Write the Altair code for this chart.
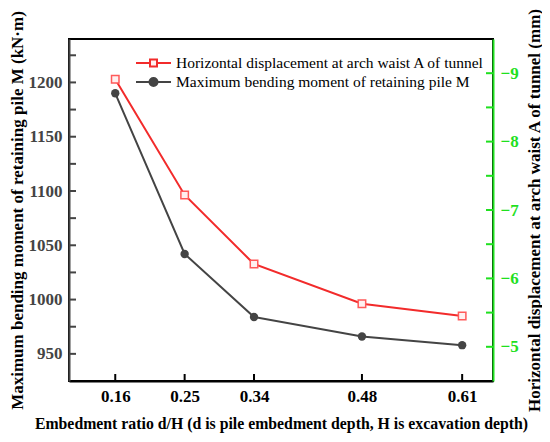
import altair as alt
import pandas as pd

ratio = [0.16, 0.25, 0.34, 0.48, 0.61]
moment = [1190, 1042, 984, 966, 958]
disp = [-8.91, -7.22, -6.21, -5.63, -5.45]
series_names = ["Horizontal displacement at arch waist A of tunnel",
                "Maximum bending moment of retaining pile M"]
left_ticks = [950, 975, 1000, 1025, 1050, 1075, 1100, 1125, 1150, 1175, 1200, 1225]
right_ticks = [-9, -8.5, -8, -7.5, -7, -6.5, -6, -5.5, -5]

FONT = "Liberation Serif"
RED = "#f22b2b"
DARK = "#444444"
GREEN = "#1fe01f"
W, H = 424, 342

df = pd.DataFrame({"ratio": ratio, "moment": moment, "disp": disp})
lt = pd.DataFrame({"moment": left_ticks})
rt = pd.DataFrame({"disp": right_ticks})
xt = pd.DataFrame({"ratio": ratio})
leg = pd.DataFrame({"series": series_names})

x_enc = alt.X("ratio:Q",
              scale=alt.Scale(domain=[0.10, 0.65], nice=False, zero=False),
              axis=alt.Axis(values=ratio, format=".2f", tickSize=0, labelPadding=7,
                            title="Embedment ratio d/H (d is pile embedment depth, H is excavation depth)",
                            titleX=W / 2, titleY=47, titleBaseline="alphabetic", titleAlign="center",
                            domainColor="black", domainWidth=2,
                            labelFont=FONT, labelFontSize=17, labelFontWeight="bold", labelColor="black",
                            titleFont=FONT, titleFontSize=15.8, titleFontWeight="bold", titleColor="black"))

y_left = alt.Y("moment:Q",
               scale=alt.Scale(domain=[925, 1240], nice=False, zero=False),
               axis=alt.Axis(orient="left", values=left_ticks, format="d", tickSize=0, labelPadding=7,
                             labelExpr="datum.value % 50 === 0 ? datum.label : ''",
                             title="Maximum bending moment of retaining pile M (kN·m)",
                             titleX=-52, titleY=H / 2, titleAngle=270, titleBaseline="middle",
                             titleAlign="center",
                             domainColor=DARK, domainWidth=2,
                             labelFont=FONT, labelFontSize=17, labelFontWeight="bold", labelColor=DARK,
                             titleFont=FONT, titleFontSize=17, titleFontWeight="bold", titleColor="black"))

y_right = alt.Y("disp:Q",
                scale=alt.Scale(domain=[-9.5, -4.5], nice=False, zero=False, reverse=True),
                axis=alt.Axis(orient="right", values=right_ticks, format=".0f", tickSize=0, labelPadding=7,
                              labelExpr="datum.value % 1 === 0 ? datum.label : ''",
                              title="Horizontal displacement at arch waist A of tunnel (mm)",
                              titleX=41, titleY=H / 2, titleAngle=270, titleBaseline="middle",
                              titleAlign="center",
                              domainColor=GREEN, domainWidth=2,
                              labelFont=FONT, labelFontSize=17, labelFontWeight="bold", labelColor=GREEN,
                              titleFont=FONT, titleFontSize=17, titleFontWeight="bold", titleColor="black"))

m_line = alt.Chart(df).mark_line(color=DARK, strokeWidth=2).encode(x=x_enc, y=y_left)
m_pts = alt.Chart(df).mark_point(shape="circle", filled=True, size=70, color=DARK, opacity=1).encode(
    x="ratio:Q", y="moment:Q")
m_ticks = alt.Chart(lt).mark_rule(color=DARK, strokeWidth=2).encode(
    y="moment:Q", x=alt.value(0), x2=alt.value(7))
x_ticks = alt.Chart(xt).mark_rule(color="black", strokeWidth=2).encode(
    x="ratio:Q", y=alt.value(H - 7), y2=alt.value(H))

# legend glyphs: line with marker, scaled by sqrt(symbolSize)/2 = 9
sq = "M-1.944,0H-0.389M0.389,0H1.944M-0.389,-0.389H0.389V0.389H-0.389Z"
ci = "M-1.944,0H1.944M0.444,0A0.444,0.444 0 1,1 -0.444,0A0.444,0.444 0 1,1 0.444,0Z"
legend_layer = alt.Chart(leg).transform_filter("false").mark_point(opacity=1, strokeWidth=2).encode(
    color=alt.Color("series:N", scale=alt.Scale(domain=series_names, range=[RED, DARK]),
                    legend=alt.Legend(title=None, orient="none", legendX=74.5, legendY=14,
                                      symbolSize=324, symbolStrokeWidth=2, labelOffset=12.5,
                                      labelFont=FONT, labelFontSize=15.5, labelColor="black",
                                      labelLimit=400, rowPadding=0)),
    shape=alt.Shape("series:N", scale=alt.Scale(domain=series_names, range=[sq, ci])),
    fill=alt.Fill("series:N", scale=alt.Scale(domain=series_names, range=["#fff0f0", DARK])),
)

left = alt.layer(m_line, m_pts, m_ticks, x_ticks, legend_layer)

d_line = alt.Chart(df).mark_line(color=RED, strokeWidth=2).encode(x="ratio:Q", y=y_right)
d_pts = alt.Chart(df).mark_point(shape="square", filled=True, size=56, fill="#fff0f0",
                                 stroke="#ff5a5a", strokeWidth=1.5, opacity=1).encode(
    x="ratio:Q", y="disp:Q")
d_ticks = alt.Chart(rt).mark_rule(color=GREEN, strokeWidth=2).encode(
    y="disp:Q", x=alt.value(W - 7), x2=alt.value(W))

right = alt.layer(d_line, d_pts, d_ticks)

chart = alt.layer(left, right).resolve_scale(y="independent").properties(
    width=W, height=H,
    autosize=alt.AutoSizeParams(type="none"),
    padding={"left": 61, "top": 31, "right": 49, "bottom": 53},
).configure_view(stroke="black", strokeWidth=2).configure_axis(grid=False)

chart.save("out.html", embed_options={"renderer": "svg", "actions": False})
